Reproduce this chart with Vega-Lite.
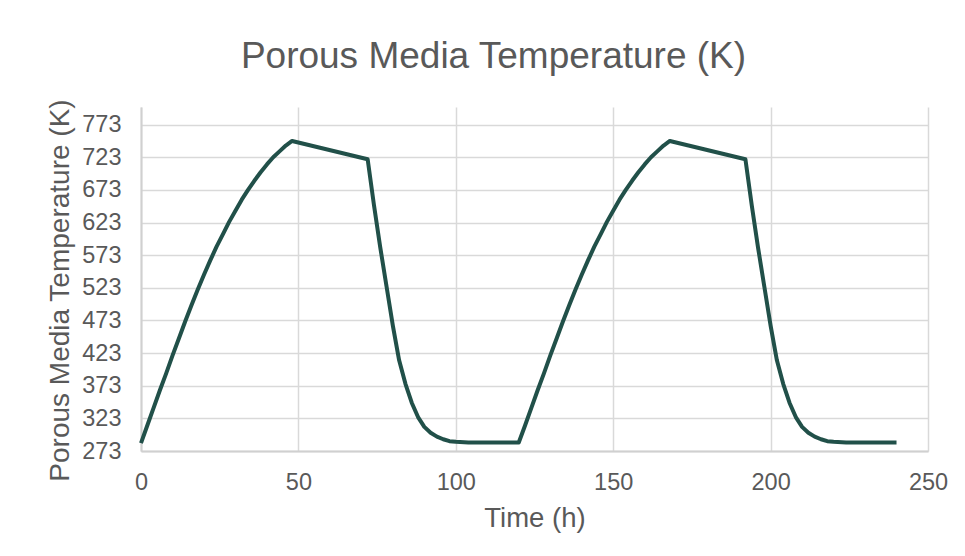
{
  "$schema": "https://vega.github.io/schema/vega-lite/v6.json",
  "autosize": {"type": "none"},
  "width": 787,
  "height": 344,
  "padding": {"left": 141, "top": 107, "right": 37, "bottom": 105},
  "background": "white",
  "title": {
    "text": "Porous Media Temperature (K)",
    "font": "Liberation Sans",
    "fontSize": 37,
    "fontWeight": "normal",
    "color": "#595959",
    "anchor": "middle",
    "offset": 23,
    "dx": -41
  },
  "data": {
    "values": [
      {"t": 0, "T": 285}, {"t": 2, "T": 312}, {"t": 4, "T": 339}, {"t": 6, "T": 366}, {"t": 8, "T": 392},
      {"t": 10, "T": 419}, {"t": 12, "T": 445}, {"t": 14, "T": 471}, {"t": 16, "T": 496}, {"t": 18, "T": 520},
      {"t": 20, "T": 543}, {"t": 22, "T": 565}, {"t": 24, "T": 586}, {"t": 26, "T": 605}, {"t": 28, "T": 624},
      {"t": 30, "T": 641}, {"t": 32, "T": 658}, {"t": 34, "T": 673}, {"t": 36, "T": 687}, {"t": 38, "T": 700},
      {"t": 40, "T": 712}, {"t": 42, "T": 723}, {"t": 44, "T": 732}, {"t": 46, "T": 741}, {"t": 48, "T": 748},
      {"t": 72, "T": 720}, {"t": 74, "T": 650}, {"t": 76, "T": 585}, {"t": 78, "T": 525}, {"t": 80, "T": 465},
      {"t": 82, "T": 412}, {"t": 84, "T": 376}, {"t": 86, "T": 347}, {"t": 88, "T": 325}, {"t": 90, "T": 310},
      {"t": 92, "T": 301}, {"t": 94, "T": 295}, {"t": 96, "T": 291}, {"t": 98, "T": 288}, {"t": 100, "T": 287},
      {"t": 104, "T": 286}, {"t": 120, "T": 286},
      {"t": 122, "T": 312}, {"t": 124, "T": 339}, {"t": 126, "T": 366}, {"t": 128, "T": 392},
      {"t": 130, "T": 419}, {"t": 132, "T": 445}, {"t": 134, "T": 471}, {"t": 136, "T": 496}, {"t": 138, "T": 520},
      {"t": 140, "T": 543}, {"t": 142, "T": 565}, {"t": 144, "T": 586}, {"t": 146, "T": 605}, {"t": 148, "T": 624},
      {"t": 150, "T": 641}, {"t": 152, "T": 658}, {"t": 154, "T": 673}, {"t": 156, "T": 687}, {"t": 158, "T": 700},
      {"t": 160, "T": 712}, {"t": 162, "T": 723}, {"t": 164, "T": 732}, {"t": 166, "T": 741}, {"t": 168, "T": 748},
      {"t": 192, "T": 720}, {"t": 194, "T": 650}, {"t": 196, "T": 585}, {"t": 198, "T": 525}, {"t": 200, "T": 465},
      {"t": 202, "T": 412}, {"t": 204, "T": 376}, {"t": 206, "T": 347}, {"t": 208, "T": 325}, {"t": 210, "T": 310},
      {"t": 212, "T": 301}, {"t": 214, "T": 295}, {"t": 216, "T": 291}, {"t": 218, "T": 288}, {"t": 220, "T": 287},
      {"t": 224, "T": 286}, {"t": 240, "T": 286}
    ]
  },
  "mark": {"type": "line", "color": "#215049", "strokeWidth": 4, "strokeJoin": "round", "strokeCap": "butt"},
  "encoding": {
    "x": {
      "field": "t",
      "type": "quantitative",
      "scale": {"domain": [0, 250], "nice": false, "zero": false},
      "axis": {
        "title": "Time (h)",
        "values": [0, 50, 100, 150, 200, 250],
        "grid": true,
        "gridColor": "#d9d9d9",
        "gridWidth": 1.5,
        "domainColor": "#d0d0d0",
        "domainWidth": 2,
        "ticks": false,
        "labelFont": "Liberation Sans",
        "labelFontSize": 23.5,
        "labelColor": "#595959",
        "labelPadding": 19,
        "labelFlush": false,
        "titleFont": "Liberation Sans",
        "titleFontSize": 27.5,
        "titleFontWeight": "normal",
        "titleColor": "#595959",
        "titlePadding": 11
      }
    },
    "y": {
      "field": "T",
      "type": "quantitative",
      "scale": {"domain": [273, 800], "nice": false, "zero": false},
      "axis": {
        "title": "Porous Media Temperature (K)",
        "values": [273, 323, 373, 423, 473, 523, 573, 623, 673, 723, 773],
        "grid": true,
        "gridColor": "#d9d9d9",
        "gridWidth": 1.5,
        "domainColor": "#d0d0d0",
        "domainWidth": 2,
        "ticks": false,
        "labelFont": "Liberation Sans",
        "labelFontSize": 23.5,
        "labelColor": "#595959",
        "labelPadding": 20,
        "labelFlush": false,
        "titleFont": "Liberation Sans",
        "titleFontSize": 28,
        "titleFontWeight": "normal",
        "titleColor": "#595959",
        "titlePadding": 7,
        "titleY": 183
      }
    }
  },
  "config": {"view": {"stroke": null}}
}
